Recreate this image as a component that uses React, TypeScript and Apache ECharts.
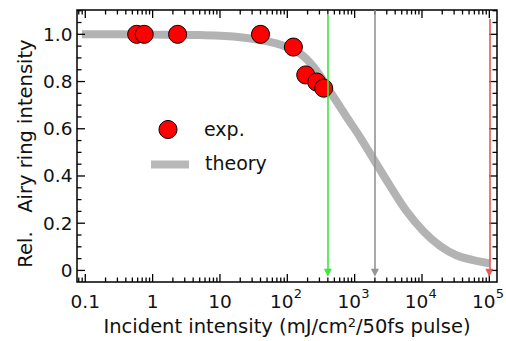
import React, { useEffect, useRef } from 'react';
import * as echarts from 'echarts';

// ---- data ----
const expIntensity = [0.58, 0.75, 2.35, 40, 123, 188, 273, 347];
const expRel = [1.0, 1.0, 1.0, 1.0, 0.946, 0.828, 0.798, 0.772];

const theoryIntensity = [0.089, 0.32, 1, 5, 20, 68, 155, 257, 427, 760, 1200, 2000, 3390, 5900, 10500, 18600, 33000, 57500, 102000];
const theoryRel = [1.0, 1.0, 0.999, 0.997, 0.988, 0.962, 0.918, 0.855, 0.76, 0.65, 0.565, 0.462, 0.356, 0.251, 0.166, 0.103, 0.063, 0.044, 0.03];

const markerIntensity = [400, 2000, 100000];
const markerTop = [1.082, 1.103, 1.065];
const markerColors = ['#3ee63e', '#949494', '#e65858'];

const xMajorTicks = [0.1, 1, 10, 100, 1000, 10000, 100000];
const xTickLabels = ['0.1', '1', '10', '10^2', '10^3', '10^4', '10^5'];
const yMajorTicks = [0, 0.2, 0.4, 0.6, 0.8, 1.0];
const yTickLabels = ['0', '0.2', '0.4', '0.6', '0.8', '1.0'];
const yMinorStep = 0.05;

// axis ranges (x in log10 units)
const X_MIN = -1.123;
const X_MAX = 5.114;
const Y_MIN = -0.049;
const Y_MAX = 1.103;

const FONT = '"DejaVu Sans", sans-serif';
const TXT = '#111';

function buildXTicks() {
  const out: number[][] = [];
  xMajorTicks.forEach((v, i) => out.push([Math.log10(v), 1, i]));
  for (let d = -2; d <= 5; d++) {
    for (let k = 2; k <= 9; k++) {
      const lv = Math.log10(k) + d;
      if (lv > X_MIN && lv < X_MAX) out.push([lv, 0, -1]);
    }
  }
  return out;
}

function buildYTicks() {
  const out: number[][] = [];
  yMajorTicks.forEach((v, i) => out.push([X_MIN, v, 1, i]));
  for (let n = -2; n <= 24; n++) {
    const v = Math.round(n * yMinorStep * 1000) / 1000;
    if (v <= Y_MIN || v >= Y_MAX) continue;
    if (yMajorTicks.some((m) => Math.abs(m - v) < 1e-6)) continue;
    out.push([X_MIN, v, 0, -1]);
  }
  return out;
}

function txt(x: number, y: number, text: string, size: number, align: string, valign: string) {
  return {
    type: 'text',
    x,
    y,
    silent: true,
    style: {
      text,
      fill: TXT,
      fontSize: size,
      fontFamily: FONT,
      align,
      verticalAlign: valign,
      textAlign: align,
      textVerticalAlign: valign,
    },
  };
}

export default function App() {
  const ref = useRef<HTMLDivElement>(null);

  useEffect(() => {
    document.body.style.margin = '0';
    if (!ref.current) return;
    const chart = echarts.init(ref.current, undefined, { renderer: 'svg' });

    const tickStyle = { stroke: '#000', lineWidth: 1.3 };

    const option: any = {
      animation: false,
      grid: {
        left: 77,
        right: 9,
        top: 10,
        bottom: 58,
        show: true,
        borderColor: '#000',
        borderWidth: 1.5,
        backgroundColor: 'transparent',
      },
      xAxis: {
        type: 'value',
        min: X_MIN,
        max: X_MAX,
        axisLine: { show: false },
        axisTick: { show: false },
        axisLabel: { show: false },
        splitLine: { show: false },
        name: '{a|Incident intensity (mJ/cm}{s|2}{a|/50fs pulse)}',
        nameLocation: 'middle',
        nameGap: 34,
        nameTextStyle: {
          fontFamily: FONT,
          fontSize: 19.5,
          color: TXT,
          rich: {
            a: { fontFamily: FONT, fontSize: 19.5, color: TXT },
            s: { fontFamily: FONT, fontSize: 13, color: TXT, verticalAlign: 'top' },
          },
        },
      },
      yAxis: {
        type: 'value',
        min: Y_MIN,
        max: Y_MAX,
        axisLine: { show: false },
        axisTick: { show: false },
        axisLabel: { show: false },
        splitLine: { show: false },
      },
      graphic: [
        {
          type: 'text',
          x: 25,
          y: 153.5,
          rotation: Math.PI / 2,
          silent: true,
          style: {
            text: 'Rel.   Airy ring intensity',
            fill: TXT,
            fontSize: 19.5,
            fontFamily: FONT,
            align: 'center',
            verticalAlign: 'middle',
            textAlign: 'center',
            textVerticalAlign: 'middle',
          },
        },
        {
          type: 'circle',
          shape: { cx: 168, cy: 129.5, r: 9 },
          style: { fill: '#ff0000', stroke: '#000', lineWidth: 1 },
          silent: true,
        },
        txt(204, 128.5, 'exp.', 19, 'left', 'middle'),
        {
          type: 'rect',
          shape: { x: 151, y: 160.5, width: 38, height: 8 },
          style: { fill: '#b8b8b8' },
          silent: true,
        },
        txt(205, 162.5, 'theory', 19, 'left', 'middle'),
      ],
      series: [
        {
          name: 'theory',
          type: 'line',
          data: theoryIntensity.map((v, i) => [Math.log10(v), theoryRel[i]]),
          showSymbol: false,
          smooth: 0.35,
          lineStyle: { color: '#b3b3b3', width: 8, cap: 'butt' },
          z: 2,
          silent: true,
        },
        {
          name: 'exp.',
          type: 'scatter',
          data: expIntensity.map((v, i) => [Math.log10(v), expRel[i]]),
          symbol: 'circle',
          symbolSize: 18,
          itemStyle: { color: '#ff0000', borderColor: '#000', borderWidth: 1, opacity: 1 },
          z: 3,
          silent: true,
        },
        {
          type: 'custom',
          clip: false,
          silent: true,
          z: 4,
          data: buildXTicks(),
          renderItem: (params: any, api: any) => {
            const lv = api.value(0);
            const major = api.value(1) === 1;
            const li = api.value(2);
            const cs = params.coordSys;
            const px = api.coord([lv, 0])[0];
            const bottom = cs.y + cs.height;
            const top = cs.y;
            const len = major ? 8 : 4.5;
            const children: any[] = [
              { type: 'line', shape: { x1: px, y1: bottom, x2: px, y2: bottom - len }, style: tickStyle },
              { type: 'line', shape: { x1: px, y1: top, x2: px, y2: top + len }, style: tickStyle },
            ];
            if (major && li >= 0) {
              const parts = xTickLabels[li].split('^');
              if (parts.length > 1) {
                children.push(txt(px - 5.5, bottom + 19, parts[0], 18.5, 'center', 'middle'));
                children.push(txt(px + 6.5, bottom + 5, parts[1], 13, 'left', 'top'));
              } else {
                children.push(txt(px, bottom + 19, parts[0], 18.5, 'center', 'middle'));
              }
            }
            return { type: 'group', children };
          },
        },
        {
          type: 'custom',
          clip: false,
          silent: true,
          z: 4,
          data: buildYTicks(),
          renderItem: (params: any, api: any) => {
            const v = api.value(1);
            const major = api.value(2) === 1;
            const li = api.value(3);
            const cs = params.coordSys;
            const py = api.coord([X_MIN, v])[1];
            const left = cs.x;
            const right = cs.x + cs.width;
            const len = major ? 8 : 4.5;
            const children: any[] = [
              { type: 'line', shape: { x1: left, y1: py, x2: left + len, y2: py }, style: tickStyle },
              { type: 'line', shape: { x1: right, y1: py, x2: right - len, y2: py }, style: tickStyle },
            ];
            if (major && li >= 0) {
              children.push(txt(left - 4.5, py, yTickLabels[li], 18.5, 'right', 'middle'));
            }
            return { type: 'group', children };
          },
        },
        {
          type: 'line',
          data: [],
          silent: true,
          z: 6,
          markLine: {
            silent: true,
            animation: false,
            symbol: ['none', 'triangle'],
            symbolSize: [8, 8],
            label: { show: false },
            emphasis: { disabled: true },
            data: markerIntensity.map((v, i) => [
              {
                coord: [Math.log10(v), markerTop[i]],
                lineStyle: { color: markerColors[i], width: 1.6, type: 'solid' },
                itemStyle: { color: markerColors[i] },
              },
              {
                coord: [Math.log10(v), -0.01],
                lineStyle: { color: markerColors[i], width: 1.6, type: 'solid' },
                itemStyle: { color: markerColors[i] },
              },
            ]),
          },
        },
      ],
    };

    chart.setOption(option);
    return () => chart.dispose();
  }, []);

  return <div ref={ref} style={{ width: 506, height: 341 }} />;
}
